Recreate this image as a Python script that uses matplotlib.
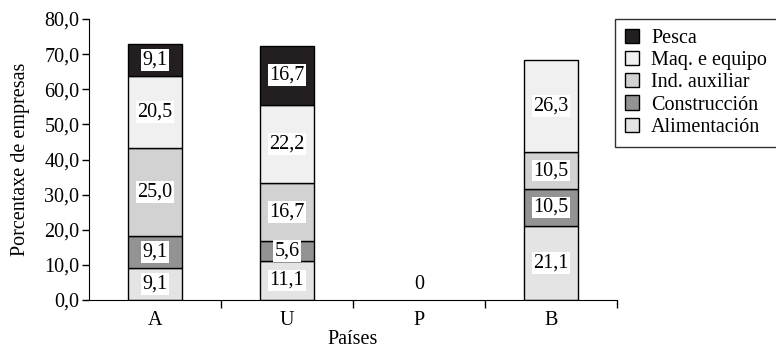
import numpy as np
from matplotlib import pyplot as plt

plt.rcParams["font.family"] = ["Liberation Serif", "DejaVu Serif"]

paises = ["A", "U", "P", "B"]
alimentacion = [9.1, 11.1, 0, 21.1]
construccion = [9.1, 5.6, 0, 10.5]
ind_auxiliar = [25.0, 16.7, 0, 10.5]
maq_equipo = [20.5, 22.2, 0, 26.3]
pesca = [9.1, 16.7, 0, 0]

series = [
    ("Alimentación", alimentacion, "#e4e4e4"),
    ("Construcción", construccion, "#939393"),
    ("Ind. auxiliar", ind_auxiliar, "#d2d2d2"),
    ("Maq. e equipo", maq_equipo, "#f0f0f0"),
    ("Pesca", pesca, "#231f20"),
]
fs = 14.5

fig = plt.figure(figsize=(7.76, 3.51), dpi=100)
ax = fig.add_axes([89 / 776, 1 - 300 / 351, 528 / 776, 281 / 351])

x = np.arange(len(paises))
bottom = np.zeros(len(paises))
handles = []
for name, vals, color in series:
    vals = np.array(vals)
    lw = [1.0 if v > 0 else 0 for v in vals]
    bars = ax.bar(x, vals, 0.41, bottom=bottom, color=color,
                  edgecolor="black", linewidth=lw, label=name)
    handles.append(bars)
    for xi, v, b in zip(x, vals, bottom):
        if v > 0:
            ax.text(xi, b + v / 2, f"{v:.1f}".replace(".", ","), ha="center",
                    va="center", fontsize=fs,
                    bbox=dict(facecolor="white", edgecolor="none", pad=1))
    bottom = bottom + vals

# P has no firms
for xi, tot in zip(x, bottom):
    if tot == 0:
        ax.text(xi, 4.3, "0", ha="center", va="center", fontsize=fs)

ax.set_xlim(-0.5, len(paises) - 0.5)
ax.set_ylim(0, 80)
ax.set_yticks(np.arange(0, 81, 10))
ax.set_yticklabels([f"{v:.1f}".replace(".", ",") for v in np.arange(0, 81, 10)],
                   fontsize=fs)
ax.set_xticks(x)
ax.set_xticklabels(paises, fontsize=fs)
ax.tick_params(axis="x", length=0, pad=8)
ax.set_xticks(np.arange(0.5, len(paises), 1), minor=True)
ax.tick_params(axis="x", which="minor", length=6, width=1, direction="out")
ax.tick_params(axis="y", length=5, width=1, direction="out", pad=2)
ax.spines["top"].set_visible(False)
ax.spines["right"].set_visible(False)
ax.set_xlabel("Países", fontsize=fs, labelpad=0)
ax.set_ylabel("Porcentaxe de empresas", fontsize=fs, labelpad=10)

leg = ax.legend(handles[::-1], [s[0] for s in series][::-1], loc="upper left",
                bbox_to_anchor=(615 / 776, 1 - 19 / 351),
                bbox_transform=fig.transFigure, fontsize=fs, frameon=True,
                fancybox=False, edgecolor="black", handlelength=0.7,
                handleheight=0.7, handletextpad=0.6, labelspacing=0.15,
                borderpad=0.5, borderaxespad=0)
leg.get_frame().set_linewidth(1.0)

plt.savefig("out.png", dpi=100)
